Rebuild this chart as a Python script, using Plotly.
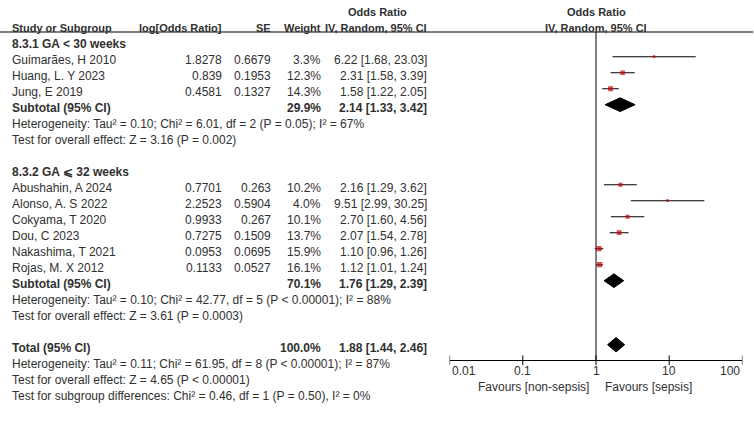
import math
import plotly.graph_objects as go

# ---------------- data ----------------
group1_label = "8.3.1 GA < 30 weeks"
studies1 = ["Guimarães, H 2010", "Huang, L. Y 2023", "Jung, E 2019"]
logor1 = [1.8278, 0.839, 0.4581]
se1 = [0.6679, 0.1953, 0.1327]
weight1 = [3.3, 12.3, 14.3]
or1 = [6.22, 2.31, 1.58]
lo1 = [1.68, 1.58, 1.22]
hi1 = [23.03, 3.39, 2.05]
sub1 = {"w": 29.9, "or": 2.14, "lo": 1.33, "hi": 3.42}
het1 = "Heterogeneity: Tau² = 0.10; Chi² = 6.01, df = 2 (P = 0.05); I² = 67%"
test1 = "Test for overall effect: Z = 3.16 (P = 0.002)"

group2_label = "8.3.2 GA ⩽ 32 weeks"
studies2 = ["Abushahin, A 2024", "Alonso, A. S 2022", "Cokyama, T 2020",
            "Dou, C 2023", "Nakashima, T 2021", "Rojas, M. X 2012"]
logor2 = [0.7701, 2.2523, 0.9933, 0.7275, 0.0953, 0.1133]
se2 = [0.263, 0.5904, 0.267, 0.1509, 0.0695, 0.0527]
weight2 = [10.2, 4.0, 10.1, 13.7, 15.9, 16.1]
or2 = [2.16, 9.51, 2.70, 2.07, 1.10, 1.12]
lo2 = [1.29, 2.99, 1.60, 1.54, 0.96, 1.01]
hi2 = [3.62, 30.25, 4.56, 2.78, 1.26, 1.24]
sub2 = {"w": 70.1, "or": 1.76, "lo": 1.29, "hi": 2.39}
het2 = "Heterogeneity: Tau² = 0.10; Chi² = 42.77, df = 5 (P &lt; 0.00001); I² = 88%"
test2 = "Test for overall effect: Z = 3.61 (P = 0.0003)"

total = {"w": 100.0, "or": 1.88, "lo": 1.44, "hi": 2.46}
het_t = "Heterogeneity: Tau² = 0.11; Chi² = 61.95, df = 8 (P &lt; 0.00001); I² = 87%"
test_t = "Test for overall effect: Z = 4.65 (P &lt; 0.00001)"
test_sub = "Test for subgroup differences: Chi² = 0.46, df = 1 (P = 0.50), I² = 0%"

tick_vals = [0.01, 0.1, 1, 10, 100]
tick_text = ["0.01", "0.1", "1", "10", "100"]
fav_left = "Favours [non-sepsis]"
fav_right = "Favours [sepsis]"

# ---------------- layout helpers ----------------
W, H = 754, 439
ROW0, ROWH = 40.7, 16.0        # pixel of row 0 marker centre, row height


def prow(py):
    return (py - ROW0) / ROWH


def px(x):
    return x / W


FONT = "Liberation Sans, Arial, sans-serif"
TXT = "#303030"
RED = "#C80000"
HEAD_SIZE = 11
BOLD_SIZE = 12

fig = go.Figure()
ann = []


def text(x, r, s, anchor="left", bold=False, size=None, shift=-3):
    ann.append(dict(x=px(x), y=r, xref="paper", yref="y", text=s,
                    xanchor=anchor, yanchor="middle", showarrow=False,
                    yshift=shift,
                    font=dict(family=FONT,
                              size=size or (BOLD_SIZE if bold else 12),
                              color=TXT,
                              weight="bold" if bold else "normal")))


X_NAME, X_LOG, X_SE, X_W, X_CI = 10, 223.5, 272.5, 322.5, 428.5

# headers
text(377.5, -2, "Odds Ratio", "center", bold=True, size=HEAD_SIZE)
text(596, -2, "Odds Ratio", "center", bold=True, size=HEAD_SIZE)
text(X_NAME, -1, "Study or Subgroup", bold=True, size=HEAD_SIZE)
text(X_LOG + 0.5, -1, "log[Odds Ratio]", "right", bold=True, size=HEAD_SIZE)
text(X_SE + 0.5, -1, "SE", "right", bold=True, size=HEAD_SIZE)
text(X_W + 0.5, -1, "Weight", "right", bold=True, size=HEAD_SIZE)
text(X_CI + 1, -1, "IV, Random, 95% CI", "right", bold=True, size=HEAD_SIZE)
text(596, -1, "IV, Random, 95% CI", "center", bold=True, size=HEAD_SIZE)


def fmt_ci(o, l, h):
    return f"{o:.2f} [{l:.2f}, {h:.2f}]"


ci_x, ci_y, mk_x, mk_y, mk_s = [], [], [], [], []
dia_x, dia_y = [], []


def add_summary(r, label, s, half=0.43):
    text(X_NAME, r, label, bold=True)
    text(X_W + 0.5, r, f"{s['w']:.1f}%", "right", bold=True)
    text(X_CI + 0.5, r, fmt_ci(s["or"], s["lo"], s["hi"]), "right", bold=True)
    dia_x.extend([s["lo"], s["or"], s["hi"], s["or"], s["lo"], None])
    dia_y.extend([r, r - half, r, r + half, r, None])


def add_group(start, label, names, lor, se, w, o, lo, hi, sub, het, test):
    text(X_NAME, start, label, bold=True)
    for i, n in enumerate(names):
        r = start + 1 + i
        text(X_NAME, r, n)
        text(X_LOG, r, str(lor[i]), "right")
        text(X_SE, r, str(se[i]), "right")
        text(X_W, r, f"{w[i]:.1f}%", "right")
        text(X_CI, r, fmt_ci(o[i], lo[i], hi[i]), "right")
        ci_x.extend([lo[i], hi[i], None])
        ci_y.extend([r, r, None])
        mk_x.append(o[i])
        mk_y.append(r)
        mk_s.append(2.0 + 0.2 * w[i])
    r = start + 1 + len(names)
    add_summary(r, "Subtotal (95% CI)", sub)
    text(X_NAME, r + 1, het)
    text(X_NAME, r + 2, test)
    return r + 2


end1 = add_group(0, group1_label, studies1, logor1, se1, weight1, or1, lo1,
                 hi1, sub1, het1, test1)
end2 = add_group(end1 + 2, group2_label, studies2, logor2, se2, weight2, or2,
                 lo2, hi2, sub2, het2, test2)
rt = end2 + 2
add_summary(rt, "Total (95% CI)", total, half=0.45)
text(X_NAME, rt + 1, het_t)
text(X_NAME, rt + 2, test_t)
text(X_NAME, rt + 3, test_sub)

AXIS_ROW = prow(360.3)
HEAD_ROW = prow(32)

# null line
fig.add_trace(go.Scatter(x=[1, 1], y=[HEAD_ROW, AXIS_ROW], mode="lines",
                         line=dict(color="black", width=1), hoverinfo="skip"))
# CI lines
fig.add_trace(go.Scatter(x=ci_x, y=ci_y, mode="lines",
                         line=dict(color="black", width=1.1), hoverinfo="skip"))
# study squares
fig.add_trace(go.Scatter(x=mk_x, y=mk_y, mode="markers",
                         marker=dict(symbol="square", size=mk_s, color=RED,
                                     line=dict(width=0))))
# diamonds
fig.add_trace(go.Scatter(x=dia_x, y=dia_y, mode="lines", fill="toself",
                         fillcolor="black", line=dict(color="black", width=1),
                         hoverinfo="skip"))
# axis ticks (crossing the axis line)
fig.add_trace(go.Scatter(x=tick_vals, y=[AXIS_ROW] * len(tick_vals),
                         mode="markers",
                         marker=dict(symbol="line-ns", size=7,
                                     line=dict(color="black", width=1)),
                         hoverinfo="skip"))

# tick labels
for v, t in zip(tick_vals, tick_text):
    anc = "left" if v == tick_vals[0] else ("right" if v == tick_vals[-1] else "center")
    ann.append(dict(x=math.log10(v), y=prow(371), xref="x", yref="y", text=t,
                    xanchor=anc, yanchor="middle", showarrow=False,
                    font=dict(family=FONT, size=12, color=TXT)))
text(590.5, prow(387.3), fav_left, "right", shift=0)
text(603, prow(387.3), fav_right, "left", shift=0)

fig.update_layout(
    width=W, height=H, margin=dict(l=0, r=0, t=0, b=0),
    paper_bgcolor="white", plot_bgcolor="white", showlegend=False,
    annotations=ann,
    shapes=[dict(type="line", xref="paper", yref="y", x0=0, x1=0.999,
                 y0=HEAD_ROW, y1=HEAD_ROW, line=dict(color="black", width=1))],
    xaxis=dict(type="log", range=[-2, 2], domain=[449.6 / W, 742.4 / W],
               showgrid=False, zeroline=False, showticklabels=False,
               ticks="", showline=True, linecolor="black", linewidth=1,
               anchor="free", position=1 - 360.3 / H),
    yaxis=dict(range=[prow(H), prow(0)], domain=[0, 1], visible=False,
               showgrid=False, zeroline=False),
)

fig.write_html("out.html",
               config={"displayModeBar": False, "staticPlot": True},
               post_script="document.body.style.margin='0';"
                           "document.body.style.overflow='hidden';")
